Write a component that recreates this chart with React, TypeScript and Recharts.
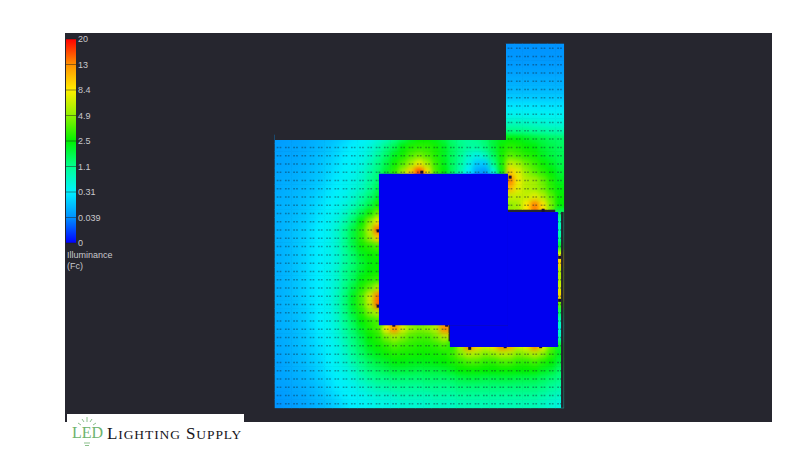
import React from "react";
import { ScatterChart, Scatter, XAxis, YAxis, ReferenceArea, BarChart, Bar, ReferenceLine } from "recharts";

// Colour scale (Fc)
const scaleValues = [0, 0.039, 0.31, 1.1, 2.5, 4.9, 8.4, 13, 20];
const scaleLabels = ["0", "0.039", "0.31", "1.1", "2.5", "4.9", "8.4", "13", "20"];
const scaleColors = ["#0000ff", "#0090ff", "#00f0ff", "#00ff90", "#00f000", "#90f000", "#ffee00", "#ff9000", "#ff0000"];

// Rows 0-10, columns 28-34: the north wing
const towerRows = [
  [.05,.05,.05,.05,.05,.05,.05],
  [.06,.06,.06,.06,.06,.06,.06],
  [.07,.07,.07,.07,.07,.07,.07],
  [.09,.09,.09,.09,.09,.09,.09],
  [.12,.12,.12,.12,.12,.12,.12],
  [.15,.15,.15,.15,.15,.15,.15],
  [.2,.2,.2,.2,.2,.2,.2],
  [.28,.28,.28,.28,.27,.27,.27],
  [.42,.42,.4,.4,.38,.38,.38],
  [.75,.75,.7,.65,.6,.55,.55],
  [1.2,1.15,1.1,1,.95,.9,.85],
];
// Rows 11-15, columns 0-34: north of the building
const northRows = [
  [.07,.08,.09,.1,.12,.14,.16,.19,.23,.28,.33,.42,.6,.8,1.2,1.7,2.2,2.6,2.6,2.3,1.9,1.4,1.1,1,1.1,1.4,1.9,2.3,2.6,2.4,2.2,2,1.8,1.6,1.5],
  [.08,.09,.1,.11,.13,.15,.18,.22,.27,.32,.4,.55,.8,1.2,1.7,2.4,3,3.2,3.2,2.8,2.2,1.6,1.2,1,1,1.3,1.9,2.7,3.2,3,2.6,2.4,2,1.8,1.6],
  [.09,.1,.1,.12,.14,.17,.2,.24,.3,.35,.45,.65,1,1.5,2.2,2.8,3.8,4.4,3.8,3,2.2,1.6,1.1,.7,.5,.8,1.6,2.8,4,3.6,3.1,2.8,2.2,1.9,1.7],
  [.09,.1,.11,.13,.15,.18,.22,.26,.32,.38,.5,.8,1.2,1.8,2.7,3.8,5.5,8,5.5,3.4,2.3,1.6,1,.5,.2,.2,1.1,2.8,6.5,5.5,4.2,3.4,2.7,2.2,1.8],
  [.1,.11,.12,.14,.16,.19,.23,.28,.35,.42,.6,.9,1.3,2,3.2,5.5,10,17,9,3.6,2.5,1.6,.9,.3,.1,.06,.5,2.4,10,7.5,5,4,3.2,2.5,2],
];
// Rows 16-43, columns 0-12: west of the building
const westRows = [
  [.11,.12,.13,.15,.17,.2,.25,.3,.38,.48,.65,1,1.4],
  [.11,.13,.14,.16,.18,.22,.27,.32,.4,.55,.75,1.1,1.7],
  [.12,.13,.15,.17,.2,.24,.29,.35,.45,.65,.95,1.4,2],
  [.13,.14,.15,.18,.21,.26,.31,.4,.55,.8,1.2,1.8,2.8],
  [.13,.14,.16,.19,.23,.28,.35,.45,.7,1.1,1.8,2.8,4.4],
  [.13,.15,.17,.2,.24,.3,.38,.55,.9,1.5,2.5,4.8,8],
  [.13,.15,.18,.21,.26,.31,.42,.65,1.1,1.9,3.2,6.2,15],
  [.13,.15,.18,.21,.26,.31,.42,.65,1.1,1.9,3.2,5.2,10],
  [.13,.15,.18,.22,.27,.32,.45,.65,1.1,1.8,2.7,3.2,3.7],
  [.13,.15,.18,.22,.27,.32,.42,.6,1,1.5,2.2,2.6,2.8],
  [.13,.15,.18,.22,.27,.32,.42,.6,1,1.4,2,2.4,2.6],
  [.13,.15,.18,.22,.27,.32,.45,.65,1.1,1.5,2.1,2.5,2.7],
  [.13,.15,.18,.22,.27,.32,.45,.65,1.1,1.6,2.4,3,3.4],
  [.13,.15,.18,.22,.27,.32,.45,.7,1.2,1.9,3,4.2,6],
  [.13,.15,.18,.22,.27,.32,.45,.75,1.3,2.2,3.7,7,14],
  [.13,.15,.17,.21,.26,.32,.45,.75,1.3,2.2,3.6,6.5,15],
  [.12,.14,.17,.2,.25,.31,.42,.7,1.2,2,3,4.7,6],
  [.12,.14,.16,.2,.25,.31,.42,.65,1.1,1.7,2.5,3.2,3.7],
  [.12,.13,.16,.19,.24,.3,.4,.6,1,1.5,2.2,3,3.6],
  [.11,.13,.15,.19,.23,.29,.37,.55,.9,1.3,1.9,2.6,3.1],
  [.11,.12,.15,.18,.22,.27,.35,.48,.8,1.2,1.7,2.3,2.7],
  [.1,.12,.14,.17,.21,.26,.33,.45,.7,1.05,1.5,2,2.3],
  [.09,.11,.14,.16,.2,.24,.31,.42,.6,.9,1.2,1.6,1.9],
  [.09,.11,.13,.15,.18,.23,.29,.38,.5,.7,1,1.3,1.5],
  [.09,.1,.12,.14,.17,.21,.26,.33,.42,.55,.8,1,1.2],
  [.08,.09,.11,.13,.15,.19,.24,.3,.36,.43,.6,.75,.9],
  [.07,.08,.1,.11,.14,.17,.21,.26,.32,.36,.43,.55,.65],
  [.05,.07,.08,.1,.12,.15,.18,.22,.27,.31,.36,.42,.5],
];
// Rows 34-43, columns 13-20: south of the main block
const courtRows = [
  [8,13,7,5,4.5,4.8,6,13],
  [4.5,5.5,4.6,3.8,3.6,3.6,4.4,6],
  [3.2,3.8,3.4,3.2,3,3,3.2,3.7],
  [2.7,3,2.9,2.8,2.7,2.7,2.8,2.9],
  [2.1,2.4,2.4,2.3,2.3,2.3,2.4,2.5],
  [1.7,1.9,1.9,1.9,1.8,1.9,1.9,2],
  [1.2,1.4,1.4,1.4,1.4,1.5,1.5,1.5],
  [.95,1.05,1.05,1.05,1.05,1.15,1.15,1.15],
  [.65,.75,.85,.85,.85,.85,.95,.95],
  [.5,.55,.65,.65,.65,.7,.75,.75],
];
// Rows 16-19, columns 28-34: the east yard
const eastRows = [
  [14,8,6,5.5,4.2,3,2.2],
  [11,7.5,6,5.5,4.5,3.2,2.4],
  [6.5,6.5,6.5,7.5,6,4,2.6],
  [5,5.5,8.5,14,9,4.5,2.5],
];
// Rows 20-35, column 34: the strip along the east wall
const eastEdge = [1.5,.8,.8,1,2,8,10,6,6,7,10,4,1.5,.8,.6,.8];
// Rows 36-43, columns 21-34: south of the annex
const southRows = [
  [3,6,14,10,7,9,14,12,7,8,14,8,4,2],
  [3.4,4.6,6,5.6,4.6,5,6,5.8,4.6,5,6,4.8,3.4,2.2],
  [2.8,3.2,3.7,3.7,3.2,3.2,3.7,3.7,3.2,3.2,3.6,3,2.5,1.9],
  [2.2,2.5,2.6,2.6,2.5,2.5,2.6,2.6,2.5,2.5,2.6,2.2,2,1.5],
  [1.6,1.8,1.9,1.9,1.8,1.8,1.9,1.9,1.8,1.8,1.8,1.6,1.4,1.2],
  [1.2,1.35,1.35,1.35,1.35,1.35,1.35,1.35,1.35,1.35,1.35,1.25,1.05,.95],
  [.95,1.05,1.05,1.05,1.05,1.05,1.05,1.05,1.05,1.05,1.05,.95,.85,.75],
  [.75,.85,.85,.85,.85,.85,.85,.85,.85,.85,.85,.75,.65,.55],
];
// Luminaires, in grid units
const fixtureX = [17.8,28.5,32.5,12.5,12.5,14.4,20.8,23.6,27.9,32.2,34.5,34.5];
const fixtureY = [15.5,16.1,20.1,22.6,31.7,34,34,36.8,36.6,36.6,25.8,31];
// Building footprint, in grid units: x1, x2, y1, y2
const buildingBlocks = [
  [12.6,28.24,15.7,34],
  [28.24,34.3,20.3,36.64],
  [21.2,28.24,34,36.64],
];
// Parts of the grid that lie outside the site
const outsideBlocks = [
  [0,28,0,11.6],
  [34.67,35,20.3,44],
];

type Cell = { x: number; y: number; lux: number };
const addRows = (out: Cell[], rows: number[][], firstRow: number, firstCol: number) =>
  rows.forEach((row, r) =>
    row.forEach((lux, c) => out.push({ x: firstCol + c + 0.5, y: firstRow + r + 0.5, lux }))
  );
const cells: Cell[] = [];
addRows(cells, towerRows, 0, 28);
addRows(cells, northRows, 11, 0);
addRows(cells, westRows, 16, 0);
addRows(cells, courtRows, 34, 13);
addRows(cells, eastRows, 16, 28);
addRows(cells, eastEdge.map((v) => [v]), 20, 34);
addRows(cells, southRows, 36, 21);
const fixtures = fixtureX.map((x, i) => ({ x, y: fixtureY[i] }));
const legendData = [{ name: "scale", span: 8 }];
const legendTicks = scaleLabels.map((_, i) => i);

const hex = (s: string) => [1, 3, 5].map((i) => parseInt(s.slice(i, i + 2), 16));
function luxColor(v: number) {
  let i = 0;
  while (i < scaleValues.length - 2 && v > scaleValues[i + 1]) i++;
  const t = Math.min(1, (v - scaleValues[i]) / (scaleValues[i + 1] - scaleValues[i]));
  const a = hex(scaleColors[i]);
  const b = hex(scaleColors[i + 1]);
  return `rgb(${a.map((q, k) => Math.round(q + (b[k] - q) * t)).join(",")})`;
}

const CELL_W = 8.25;
const CELL_H = 8.27;
const DARK = "#26262f";
const BLUE = "#0000f0";

const HeatCell = (p: any) => (
  <rect x={p.cx - CELL_W / 2 - 0.3} y={p.cy - CELL_H / 2 - 0.3} width={CELL_W + 0.6} height={CELL_H + 0.6} fill={luxColor(p.payload.lux)} />
);
const GridMark = (p: any) => (
  <path d={`M${p.cx - 2.4} ${p.cy}h1.7M${p.cx + 0.5} ${p.cy}h1.7`} stroke="#123" strokeOpacity={0.42} strokeWidth={1.5} fill="none" />
);
const FixtureMark = (p: any) => <rect x={p.cx - 1.5} y={p.cy - 1.5} width={3} height={3} fill="#1a1030" />;

const abs = (left: number, top: number): React.CSSProperties => ({ position: "absolute", left, top });

export default function App() {
  return (
    <div style={{ position: "absolute", left: 0, top: 0, width: 800, height: 453, background: "#fff", overflow: "hidden" }}>
      <style>{`.heat-layer{filter:url(#heatSmooth)}.mark-layer{filter:blur(.4px)}`}</style>
      <div style={{ ...abs(65, 33), width: 707, height: 389, background: DARK }} />
      <div style={{ ...abs(67, 414), width: 177, height: 9, background: "#fff" }} />

      <div style={abs(0, 0)}>
        <ScatterChart width={800} height={453} margin={{ left: 275, right: 236.25, top: 44, bottom: 45.12 }}>
          <defs>
            <filter id="heatSmooth" x="-5%" y="-5%" width="110%" height="110%" colorInterpolationFilters="sRGB">
              <feGaussianBlur in="SourceGraphic" stdDeviation="2.4" result="b" />
              <feComponentTransfer in="b" result="o">
                <feFuncA type="linear" slope="40" />
              </feComponentTransfer>
              <feComposite in="o" in2="SourceAlpha" operator="in" />
            </filter>
          </defs>
          <XAxis type="number" dataKey="x" domain={[0, 35]} hide />
          <YAxis type="number" dataKey="y" domain={[0, 44]} reversed hide />
          <Scatter className="heat-layer" data={cells} shape={HeatCell} isAnimationActive={false} />
          <Scatter className="mark-layer" data={cells} shape={GridMark} isAnimationActive={false} />
          {outsideBlocks.map(([x1, x2, y1, y2], i) => (
            <ReferenceArea key={i} x1={x1} x2={x2} y1={y1} y2={y2} fill={DARK} fillOpacity={1} stroke="none" zIndex={700} />
          ))}
          {buildingBlocks.map(([x1, x2, y1, y2], i) => (
            <ReferenceArea key={i} x1={x1} x2={x2} y1={y1} y2={y2} fill={BLUE} fillOpacity={1} stroke="none" zIndex={700} />
          ))}
          <Scatter data={fixtures} shape={FixtureMark} isAnimationActive={false} />
        </ScatterChart>
      </div>

      <div style={abs(0, 0)}>
        <BarChart width={130} height={300} data={legendData} margin={{ left: 66, right: 0, top: 39, bottom: 57 }} barCategoryGap={0}>
          <defs>
            <linearGradient id="legendGrad" x1="0" y1="1" x2="0" y2="0">
              {scaleColors.map((c, i) => (
                <stop key={i} offset={i / (scaleColors.length - 1)} stopColor={c} />
              ))}
            </linearGradient>
          </defs>
          <XAxis dataKey="name" hide />
          <YAxis
            type="number"
            orientation="right"
            width={54}
            domain={[0, 8]}
            ticks={legendTicks}
            interval={0}
            axisLine={false}
            tickLine={false}
            tickSize={0}
            tickMargin={2}
            tickFormatter={(v: number) => scaleLabels[v]}
            tick={{ fill: "#c8c8cc", fontSize: 9, fontFamily: "Liberation Sans", textAnchor: "start" }}
          />
          <Bar dataKey="span" fill="url(#legendGrad)" isAnimationActive={false} />
          {legendTicks.map((t) => (
            <ReferenceLine key={t} y={t} stroke="#222" strokeOpacity={0.5} zIndex={700} />
          ))}
        </BarChart>
      </div>

      <div style={{ ...abs(67, 250), color: "#c8c8cc", font: "9px/11px 'Liberation Sans'" }}>
        Illuminance
        <br />
        (Fc)
      </div>

      <svg style={abs(70, 414)} width={40} height={36}>
        <path d="M8 9l3 2M12 5l2 3M17 3v5M22 5l-2 3M26 9l-3 2" stroke="#8cc08c" strokeWidth={1} fill="none" />
        <path d="M14 29h6M15 31.5h4" stroke="#8cc08c" strokeWidth={1.2} fill="none" />
      </svg>
      <div style={{ ...abs(72, 424), color: "#6db36d", font: "16px/18px 'Liberation Serif'" }}>LED</div>
      <div style={{ ...abs(107, 425), color: "#15151b", font: "17px/18px 'Liberation Serif'", letterSpacing: 0.9, whiteSpace: "nowrap" }}>
        L<span style={{ fontSize: 13.5 }}>IGHTING</span> S<span style={{ fontSize: 13.5 }}>UPPLY</span>
      </div>
    </div>
  );
}
